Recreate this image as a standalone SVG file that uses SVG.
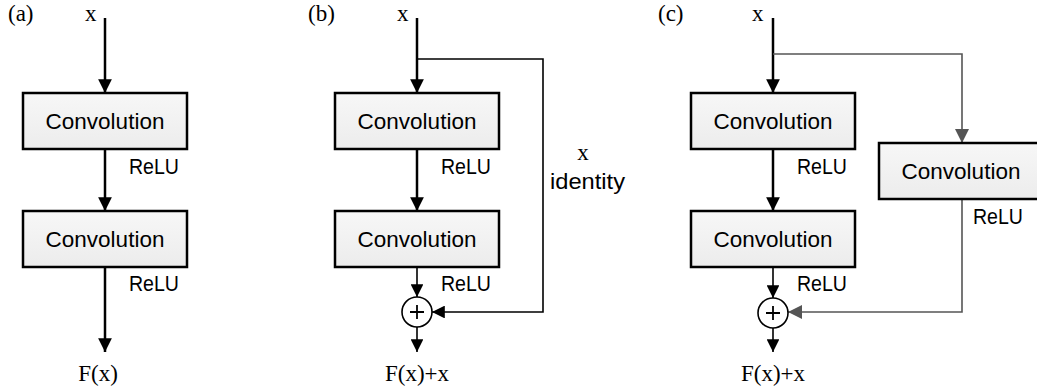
<svg xmlns="http://www.w3.org/2000/svg" width="1037" height="392" viewBox="0 0 1037 392">
<defs>
<linearGradient id="bg" x1="0" y1="0" x2="0" y2="1">
<stop offset="0" stop-color="#f7f7f7"/>
<stop offset="1" stop-color="#ececec"/>
</linearGradient>
<marker id="ah" viewBox="0 0 10 10" refX="10" refY="5" markerWidth="5.5" markerHeight="5.5" orient="auto" markerUnits="strokeWidth">
<path d="M0,0 L10,5 L0,10 Z" fill="#000"/>
</marker>
<marker id="ahs" viewBox="0 0 10 10" refX="10" refY="5" markerWidth="8" markerHeight="8" orient="auto" markerUnits="strokeWidth">
<path d="M0,0 L10,5 L0,10 Z" fill="#000"/>
</marker>
<marker id="ahg" viewBox="0 0 10 10" refX="10" refY="5" markerWidth="9" markerHeight="9" orient="auto" markerUnits="strokeWidth">
<path d="M0,0 L10,5 L0,10 Z" fill="#555"/>
</marker>
</defs>
<style>
.box{fill:url(#bg);stroke:#000;stroke-width:2.5}
.lbl{font-family:"Liberation Sans",Arial,sans-serif;font-size:22px;fill:#000}
.conv{font-family:"Liberation Sans",Arial,sans-serif;font-size:22.5px;fill:#000;text-anchor:middle}
.math{font-family:"Liberation Serif","Times New Roman",serif;font-size:23px;fill:#000}
.main{stroke:#000;stroke-width:2.5;fill:none}
.thin{stroke:#000;stroke-width:1.6;fill:none}
.gray{stroke:#555;stroke-width:1.6;fill:none}
.circ{fill:#fff;stroke:#000;stroke-width:1.6}
</style>

<g id="labels">
<text class="math" x="8" y="21">(a)</text>
<text class="math" x="308" y="21">(b)</text>
<text class="math" x="658" y="21">(c)</text>
<text class="math" x="85" y="21">x</text>
<text class="math" x="397" y="21">x</text>
<text class="math" x="752" y="21">x</text>
<text class="math" x="98" y="381" text-anchor="middle">F(x)</text>
<text class="math" x="417" y="381" text-anchor="middle">F(x)+x</text>
<text class="math" x="773" y="381" text-anchor="middle">F(x)+x</text>
<text class="lbl" x="129" y="174" textLength="50" lengthAdjust="spacingAndGlyphs">ReLU</text>
<text class="lbl" x="129" y="291" textLength="50" lengthAdjust="spacingAndGlyphs">ReLU</text>
<text class="lbl" x="441" y="174" textLength="50" lengthAdjust="spacingAndGlyphs">ReLU</text>
<text class="lbl" x="441" y="291" textLength="50" lengthAdjust="spacingAndGlyphs">ReLU</text>
<text class="lbl" x="797" y="174" textLength="50" lengthAdjust="spacingAndGlyphs">ReLU</text>
<text class="lbl" x="797" y="291" textLength="50" lengthAdjust="spacingAndGlyphs">ReLU</text>
<text class="lbl" x="973" y="224" textLength="50" lengthAdjust="spacingAndGlyphs">ReLU</text>
<text class="math" x="583" y="160" text-anchor="middle">x</text>
<text class="lbl" x="550" y="189" textLength="75" lengthAdjust="spacingAndGlyphs">identity</text>
</g>

<g id="connectors">
<!-- (a) -->
<path class="main" d="M105,18 V93" marker-end="url(#ah)"/>
<path class="main" d="M105,149 V211" marker-end="url(#ah)"/>
<path class="main" d="M105,267 V352" marker-end="url(#ah)"/>
<!-- (b) -->
<path class="main" d="M417,18 V93" marker-end="url(#ah)"/>
<path class="main" d="M417,149 V211" marker-end="url(#ah)"/>
<path class="thin" d="M417,267 V297" marker-end="url(#ahs)"/>
<path class="thin" d="M417,327 V352" marker-end="url(#ahs)"/>
<path class="thin" d="M417,59 H543 V312 H432" marker-end="url(#ahs)"/>
<!-- (c) -->
<path class="main" d="M773,18 V93" marker-end="url(#ah)"/>
<path class="main" d="M773,149 V211" marker-end="url(#ah)"/>
<path class="thin" d="M773,267 V298" marker-end="url(#ahs)"/>
<path class="thin" d="M773,328 V352" marker-end="url(#ahs)"/>
<path class="gray" d="M773,54 H962 V143" marker-end="url(#ahg)"/>
<path class="gray" d="M962,199 V312 H788" marker-end="url(#ahg)"/>
</g>

<g id="a-conv1"><rect class="box" x="23" y="93" width="164" height="56"/><text class="conv" x="105" y="129">Convolution</text></g>
<g id="a-conv2"><rect class="box" x="23" y="211" width="164" height="56"/><text class="conv" x="105" y="247">Convolution</text></g>
<g id="b-conv1"><rect class="box" x="335" y="93" width="164" height="56"/><text class="conv" x="417" y="129">Convolution</text></g>
<g id="b-conv2"><rect class="box" x="335" y="211" width="164" height="56"/><text class="conv" x="417" y="247">Convolution</text></g>
<g id="b-add"><circle class="circ" cx="417" cy="312" r="15"/><path d="M410,312 H424 M417,305 V319" stroke="#000" stroke-width="1.8"/></g>
<g id="c-conv1"><rect class="box" x="691" y="93" width="164" height="56"/><text class="conv" x="773" y="129">Convolution</text></g>
<g id="c-conv2"><rect class="box" x="691" y="211" width="164" height="56"/><text class="conv" x="773" y="247">Convolution</text></g>
<g id="c-conv3"><rect class="box" x="879" y="143" width="166" height="56"/><text class="conv" x="961" y="179">Convolution</text></g>
<g id="c-add"><circle class="circ" cx="773" cy="313" r="15"/><path d="M766,313 H780 M773,306 V320" stroke="#000" stroke-width="1.8"/></g>
</svg>
